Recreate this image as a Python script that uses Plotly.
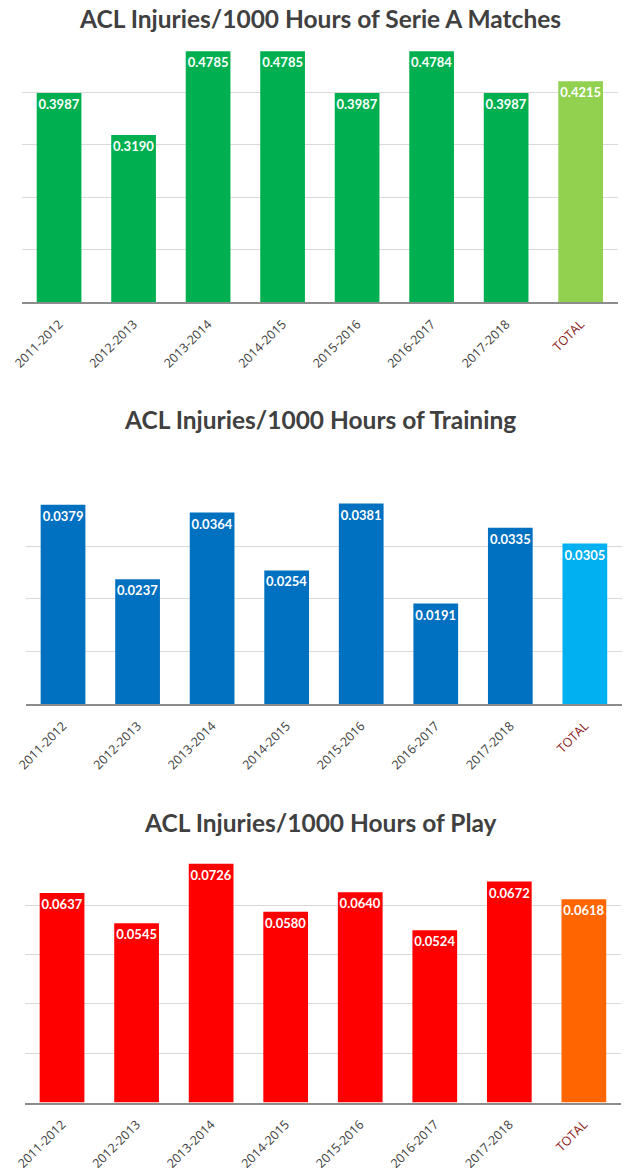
import plotly.graph_objects as go

seasons = ["2011-2012", "2012-2013", "2013-2014", "2014-2015", "2015-2016", "2016-2017", "2017-2018", "TOTAL"]
match_values = [0.3987, 0.3190, 0.4785, 0.4785, 0.3987, 0.4784, 0.3987, 0.4215]
training_values = [0.0379, 0.0237, 0.0364, 0.0254, 0.0381, 0.0191, 0.0335, 0.0305]
play_values = [0.0637, 0.0545, 0.0726, 0.0580, 0.0640, 0.0524, 0.0672, 0.0618]

titles = ["ACL Injuries/1000 Hours of Serie A Matches",
          "ACL Injuries/1000 Hours of Training",
          "ACL Injuries/1000 Hours of Play"]

colors = [
    ["#00B050"] * 7 + ["#92D050"],
    ["#0070C0"] * 7 + ["#00B0F0"],
    ["#FF0000"] * 7 + ["#FF6600"],
]

H = 1172.0
W = 630.0
# pixel geometry (top, bottom, left, right) of each plot area
panels = [
    (40.0, 302.5, 12.0, 617.7),
    (494.0, 704.6, 16.0, 622.0),
    (856.7, 1103.5, 15.0, 621.0),
]
ranges = [(0, 0.5, 0.1), (0, 0.04, 0.01), (0, 0.075, 0.015)]
title_y = [19, 420, 823]

tick_text = [s if s != "TOTAL" else '<span style="color:#8B1A1A">TOTAL</span>' for s in seasons]

fig = go.Figure()
datasets = [match_values, training_values, play_values]
layout = {}
annotations = []
for i, (vals, cols) in enumerate(zip(datasets, colors)):
    n = "" if i == 0 else str(i + 1)
    fig.add_trace(go.Bar(
        x=seasons, y=vals,
        marker=dict(color=cols, line=dict(width=0)),
        text=[f"{v:.4f}" for v in vals],
        textposition="inside", insidetextanchor="end", textangle=0,
        textfont=dict(family="Lato", size=13, color="white", weight="bold"),
        xaxis="x" + n, yaxis="y" + n,
        hoverinfo="skip", showlegend=False,
    ))
    top, bot, left, right = panels[i]
    r0, r1, dt = ranges[i]
    layout["xaxis" + n] = dict(
        domain=[left / W, right / W], anchor="y" + n,
        tickmode="array", tickvals=seasons, ticktext=tick_text,
        tickangle=-45, tickfont=dict(family="Open Sans", size=12.5, color="#404040"),
        ticklabelstandoff=8,
        showline=True, linecolor="#8C8C8C", linewidth=1.5,
        ticks="", showgrid=False, fixedrange=True,
    )
    layout["yaxis" + n] = dict(
        domain=[1 - bot / H, 1 - top / H], anchor="x" + n,
        range=[r0, r1], dtick=dt, tick0=0,
        showticklabels=False, showgrid=True, gridcolor="#D9D9D9", gridwidth=1,
        zeroline=False, showline=False, ticks="", fixedrange=True,
    )
    annotations.append(dict(
        text=titles[i], x=0.5, xref="paper", y=1 - title_y[i] / H, yref="paper",
        xanchor="center", yanchor="middle", showarrow=False,
        font=dict(family="Lato", size=24.5, color="#404040", weight="bold"),
    ))

fig.update_layout(
    width=630, height=1172,
    margin=dict(l=0, r=0, t=0, b=0),
    paper_bgcolor="white", plot_bgcolor="white",
    bargap=0.4, annotations=annotations,
    uniformtext=dict(minsize=13, mode="show"),
    **layout,
)
fig.write_html("out.html", config={"displayModeBar": False},
               post_script="document.body.style.margin='0';document.body.style.overflow='hidden';")
